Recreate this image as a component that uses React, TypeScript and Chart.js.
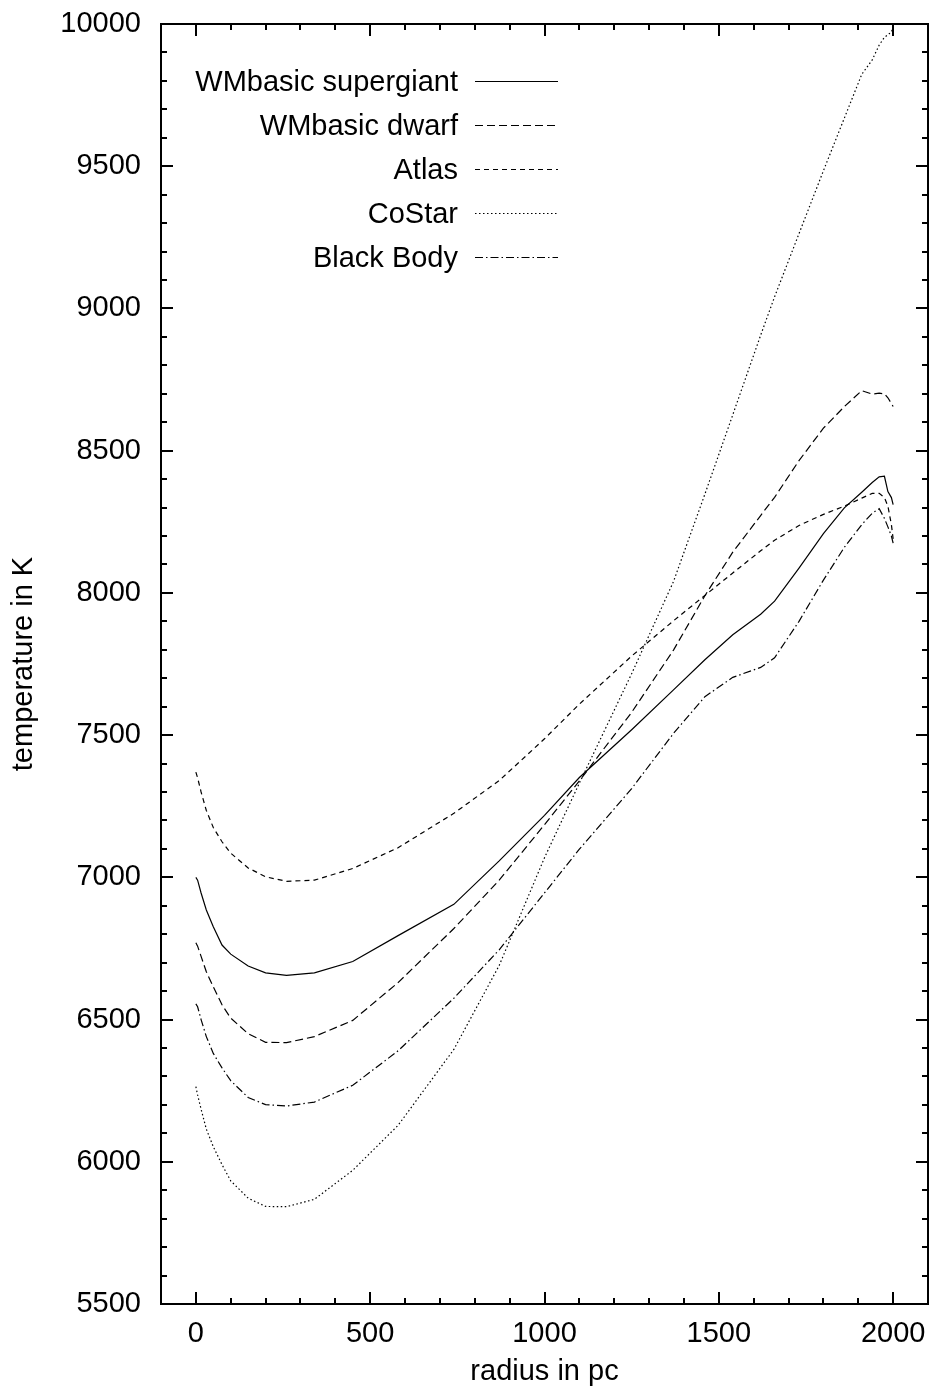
import React, { useEffect, useRef } from "react";
import { Chart, registerables } from "chart.js";

Chart.register(...registerables);

// ---- data ----
const RADIUS = [0, 5, 15, 30, 50, 75, 100, 150, 200, 260, 340, 450, 580, 740, 870, 1000, 1100, 1250, 1370, 1460, 1540, 1620, 1660, 1730, 1800, 1860, 1910, 1940, 1960, 1975, 1985, 1995, 2000];

const WM_SUPERGIANT = [7000, 6990, 6945, 6885, 6826, 6762, 6730, 6688, 6664, 6655, 6664, 6704, 6795, 6905, 7058, 7218, 7351, 7519, 7659, 7765, 7853, 7925, 7971, 8087, 8208, 8299, 8354, 8388, 8408, 8410, 8356, 8335, 8310];
const WM_DWARF = [6770, 6758, 6722, 6668, 6615, 6552, 6505, 6450, 6420, 6419, 6440, 6497, 6630, 6820, 6990, 7185, 7339, 7580, 7799, 7990, 8143, 8272, 8336, 8465, 8579, 8655, 8711, 8699, 8702, 8700, 8686, 8666, 8655];
const ATLAS = [7370, 7350, 7300, 7235, 7175, 7125, 7085, 7033, 7002, 6986, 6990, 7031, 7104, 7225, 7340, 7487, 7609, 7778, 7902, 7991, 8070, 8148, 8185, 8237, 8276, 8305, 8333, 8350, 8350, 8335, 8305, 8240, 8190];
const COSTAR = [6264, 6235, 6185, 6115, 6053, 5990, 5933, 5872, 5843, 5842, 5868, 5970, 6128, 6395, 6690, 7069, 7331, 7716, 8040, 8347, 8626, 8906, 9041, 9263, 9484, 9669, 9823, 9874, 9926, 9953, 9962, 9972, 9990];
const BLACK_BODY = [6555, 6545, 6500, 6440, 6381, 6330, 6285, 6226, 6201, 6196, 6210, 6269, 6390, 6575, 6745, 6945, 7099, 7312, 7506, 7635, 7703, 7738, 7772, 7900, 8045, 8160, 8240, 8280, 8296, 8262, 8232, 8200, 8175];

const SERIES_LABELS = ["WMbasic supergiant", "WMbasic dwarf", "Atlas", "CoStar", "Black Body"];
const SERIES_VALUES = [WM_SUPERGIANT, WM_DWARF, ATLAS, COSTAR, BLACK_BODY];
const SERIES_DASH: number[][] = [[], [8, 4], [5, 4], [1.5, 2.5], [8, 3, 1.5, 3]];

const X_TICKS = [0, 500, 1000, 1500, 2000];
const Y_TICKS = [5500, 6000, 6500, 7000, 7500, 8000, 8500, 9000, 9500, 10000];
const X_MINOR_STEP = 100;
const Y_MINOR_STEP = 100;
const X_MIN = -100;
const X_MAX = 2100;
const Y_MIN = 5500;
const Y_MAX = 10000;

const X_TITLE = "radius in pc";
const Y_TITLE = "temperature in K";

const FONT_FAMILY = '"Liberation Sans", Arial, Helvetica, sans-serif';
const FONT_SIZE = 29;
const LINE_WIDTH = 1.2;

const zeroPadding = (scale: any) => {
  scale.paddingTop = 0;
  scale.paddingBottom = 0;
  scale.paddingLeft = 0;
  scale.paddingRight = 0;
};

const frameAndLegendPlugin = {
  id: "frameAndLegend",
  afterDatasetsDraw(chart: any) {
    const ctx: CanvasRenderingContext2D = chart.ctx;
    const { left, right, top, bottom } = chart.chartArea;
    const xs = chart.scales.x;
    const ys = chart.scales.y;
    ctx.save();
    ctx.strokeStyle = "#000";
    ctx.lineWidth = 2;
    ctx.setLineDash([]);
    ctx.strokeRect(left, top, right - left, bottom - top);

    const major = 12;
    const minor = 6;
    for (let v = X_MIN + X_MINOR_STEP; v < X_MAX; v += X_MINOR_STEP) {
      const px = Math.round(xs.getPixelForValue(v));
      const len = v % 500 === 0 ? major : minor;
      ctx.beginPath();
      ctx.moveTo(px, bottom);
      ctx.lineTo(px, bottom - len);
      ctx.moveTo(px, top);
      ctx.lineTo(px, top + len);
      ctx.stroke();
    }
    for (let v = Y_MIN; v <= Y_MAX; v += Y_MINOR_STEP) {
      const py = Math.round(ys.getPixelForValue(v));
      const len = v % 500 === 0 ? major : minor;
      ctx.beginPath();
      ctx.moveTo(left, py);
      ctx.lineTo(left + len, py);
      ctx.moveTo(right, py);
      ctx.lineTo(right - len, py);
      ctx.stroke();
    }

    ctx.font = `${FONT_SIZE}px ${FONT_FAMILY}`;
    ctx.fillStyle = "#000";
    ctx.textAlign = "right";
    ctx.textBaseline = "alphabetic";
    const textRight = 458;
    const sampleL = 475;
    const sampleR = 558;
    SERIES_LABELS.forEach((label, i) => {
      const y = 81 + i * 44;
      ctx.fillText(label, textRight, y + 10);
      ctx.beginPath();
      ctx.lineWidth = LINE_WIDTH;
      ctx.setLineDash(SERIES_DASH[i]);
      ctx.moveTo(sampleL, y + 0.5);
      ctx.lineTo(sampleR, y + 0.5);
      ctx.stroke();
    });
    ctx.restore();
  },
};

export default function App() {
  const canvasRef = useRef<HTMLCanvasElement | null>(null);

  useEffect(() => {
    const canvas = canvasRef.current;
    if (!canvas) return;
    const datasets = SERIES_LABELS.map((label, i) => ({
      label,
      data: RADIUS.map((r, k) => ({ x: r, y: SERIES_VALUES[i][k] })),
      borderColor: "#000",
      borderWidth: LINE_WIDTH,
      borderDash: SERIES_DASH[i],
      pointRadius: 0,
      tension: 0,
      fill: false,
    }));
    const tickFont = { family: FONT_FAMILY, size: FONT_SIZE };
    const chart = new Chart(canvas, {
      type: "line",
      data: { datasets },
      options: {
        animation: false,
        responsive: false,
        devicePixelRatio: 1,
        layout: { padding: { top: 24, right: 3, left: 0, bottom: 0 } },
        plugins: {
          legend: { display: false },
          tooltip: { enabled: false },
        },
        scales: {
          x: {
            type: "linear",
            min: X_MIN,
            max: X_MAX,
            grid: { display: false, drawTicks: false },
            border: { display: false },
            afterBuildTicks: (scale: any) => {
              scale.ticks = X_TICKS.map((v) => ({ value: v }));
            },
            afterFit: (scale: any) => {
              scale.height = 91;
              zeroPadding(scale);
            },
            ticks: {
              color: "#000",
              font: tickFont,
              padding: 13,
              maxRotation: 0,
              autoSkip: false,
              callback: (v: any) => String(v),
            },
            title: {
              display: true,
              text: X_TITLE,
              color: "#000",
              font: tickFont,
              padding: { top: 0, bottom: 6 },
            },
          },
          y: {
            type: "linear",
            min: Y_MIN,
            max: Y_MAX,
            grid: { display: false, drawTicks: false },
            border: { display: false },
            afterBuildTicks: (scale: any) => {
              scale.ticks = Y_TICKS.map((v) => ({ value: v }));
            },
            afterFit: (scale: any) => {
              scale.width = 161;
              zeroPadding(scale);
            },
            ticks: {
              color: "#000",
              font: tickFont,
              padding: 20,
              autoSkip: false,
              callback: (v: any) => String(v),
            },
            title: {
              display: true,
              text: Y_TITLE,
              color: "#000",
              font: tickFont,
              padding: { top: 7, bottom: 0 },
            },
          },
        },
      },
      plugins: [frameAndLegendPlugin],
    } as any);
    return () => chart.destroy();
  }, []);

  return (
    <div style={{ position: "absolute", left: 0, top: 0, width: 931, height: 1395, background: "#fff" }}>
      <canvas ref={canvasRef} width={931} height={1395} style={{ display: "block", width: 931, height: 1395 }} />
    </div>
  );
}
